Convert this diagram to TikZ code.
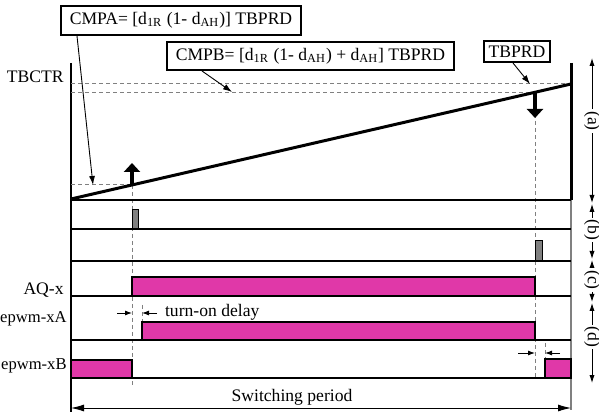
\documentclass[tikz,border=0pt]{standalone}
\usepackage{fontspec}
\setmainfont{Liberation Serif}
\usepackage{color}
\usetikzlibrary{positioning, calc}
\usetikzlibrary{arrows.meta}

\definecolor{pwmpink}{RGB}{224,56,168}
\definecolor{pulsegray}{RGB}{128,128,128}

\tikzset{
    callout/.style = {draw, line width=1pt, inner sep=1pt},
    pointer/.style = {line width=0.45pt, -{Latex[length=4.5pt,width=3pt]}},
    refline/.style = {gray, line width=0.5pt, dash pattern=on 2pt off 1.5pt},
    trace/.style = {line width=0.7pt},
    bigarrow/.style = {line width=2pt, -{Triangle[length=4.5pt,width=8pt]}},
    smallarrow/.style = {line width=0.45pt, -{Latex[length=3.5pt,width=2.5pt]}}
}

% #1 x1, #2 y1, #3 x2, #4 y2
\newcommand{\pwmbar}[4] {
    \draw[fill = pwmpink, line width=0.7pt] (#1,#2) rectangle (#3,#4);
}
% #1 top, #2 bottom, #3 label y, #4 name, #5 text
\newcommand{\regionmark}[5] {
    \draw[line width=0.45pt, {Latex[length=4pt,width=2.6pt]}-{Latex[length=4pt,width=2.6pt]}] (592,#1) -- (592,#2);
    \node[fill=white, rotate=-90, inner sep=1pt] (#4) at (592,#3) {#5};
}

\begin{document}
\begin{tikzpicture}[x=0.5pt, y=-0.5pt, font=\fontsize{8.8}{10}\selectfont]
                \useasboundingbox (0,0) rectangle (599,416);
                % counter ramp
                \draw[line width=1pt] (71,63) -- (71,412);
                \draw[line width=1.5pt] (571,63) -- (571,200);
                \draw[gray, line width=0.6pt] (571,200) -- (571,410);
                \draw[refline] (71,84) -- (571,84);
                \draw[refline] (71,93) -- (535,93);
                \draw[refline] (71,185) -- (132,185);
                \draw[refline] (132,185) -- (132,385);
                \draw[refline] (535,93) -- (535,378);
                \draw[refline] (142,305) -- (142,322);
                \draw[refline] (545,343) -- (545,360);
                \draw[line width=1.5pt] (71,199) -- (571,84);
                \foreach \y in {200,229,261,296,340,378}
                    \draw[trace] (71,\y) -- (571,\y);
                \draw[bigarrow] (132,186) -- (132,163);
                \draw[bigarrow] (535,93) -- (535,118);
                % compare events
                \draw[fill = pulsegray, line width=0.5pt] (132,210) rectangle (138,229);
                \draw[fill = pulsegray, line width=0.5pt] (535,241) rectangle (542,261);
                % action qualifier and dead band outputs
                \pwmbar{132}{277}{535}{296}
                \pwmbar{142}{322}{535}{340}
                \pwmbar{71}{360}{132}{378}
                \pwmbar{545}{359}{571}{378}
                \draw[smallarrow] (117,313) -- (132,313);
                \draw[smallarrow] (157,313) -- (142,313);
                \draw[smallarrow] (518,353) -- (535,353);
                \draw[smallarrow] (560,353) -- (545,353);
                \node[anchor=west] (delay) at (158,312) {turn-on delay};
                % signal names
                \node[anchor=base east, inner sep=1pt] (tbctr) at (66,83) {TBCTR};
                \node[anchor=base east, inner sep=1pt] (aqx) at (66,295) {AQ-x};
                \node[anchor=base east, inner sep=0pt, font=\fontsize{8.3}{10}\selectfont] (xa) at (67,323) {epwm-xA};
                \node[anchor=base east, inner sep=0pt, font=\fontsize{8.3}{10}\selectfont] (xb) at (67,370) {epwm-xB};
                % register values
                \node[callout, minimum width=120pt, minimum height=14.5pt] (cmpa) at (181,20.5) {CMPA= [d\textsubscript{1R} (1- d\textsubscript{AH})] TBPRD};
                \node[callout, minimum width=143.5pt, minimum height=14pt] (cmpb) at (310.5,56) {CMPB= [d\textsubscript{1R} (1- d\textsubscript{AH}) + d\textsubscript{AH}] TBPRD};
                \node[callout, minimum width=33pt, minimum height=10.5pt] (tbprd) at (517,51.5) {TBPRD};
                \coordinate (cmpalevel) at (93,185);
                \coordinate (cmpblevel) at (232,92);
                \coordinate (tbprdlevel) at (530,84);
                \draw[pointer] ($(cmpa.south west)+(17,0)$) -- (cmpalevel);
                \draw[pointer] ($(cmpb.south west)+(36,0)$) -- (cmpblevel);
                \draw[pointer] ($(tbprd.south west)+(30,0)$) -- (tbprdlevel);
                % intervals on the right
                \regionmark{58}{203}{121}{marka}{(a)}
                \regionmark{204}{259}{230}{markb}{(b)}
                \regionmark{260}{302}{280}{markc}{(c)}
                \regionmark{303}{383}{337}{markd}{(d)}
                % switching period
                \coordinate (periodstart) at (71,408);
                \coordinate (periodend) at (571,408);
                \draw[line width=0.45pt, {Latex[length=6.5pt,width=3.5pt]}-{Latex[length=6.5pt,width=3.5pt]}] (periodstart) -- (periodend);
                \node[anchor=base] (period) at (292,401) {Switching period};
            \end{tikzpicture}
\end{document}
